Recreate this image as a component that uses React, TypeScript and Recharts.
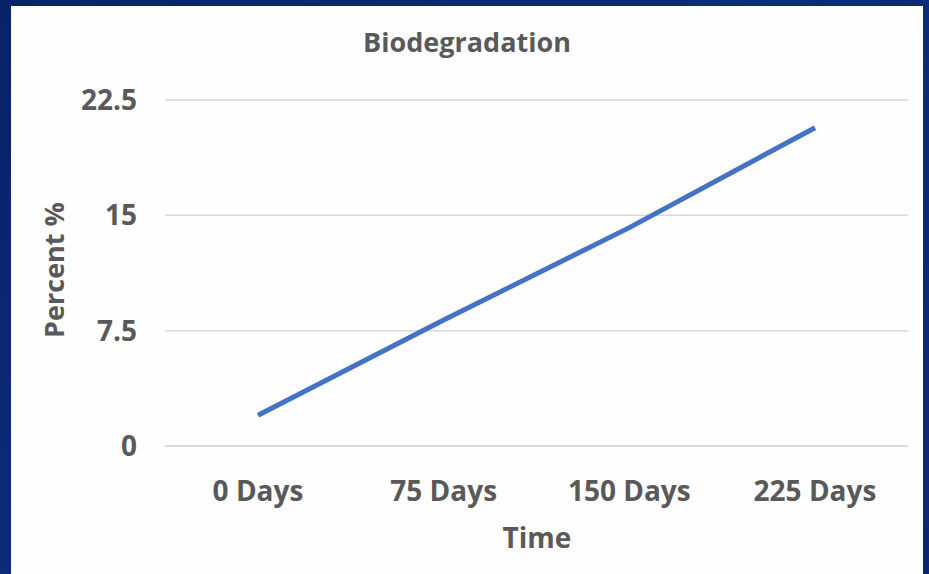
import React from "react";
import { LineChart, Line, XAxis, YAxis, CartesianGrid } from "recharts";

const categories = ["0 Days", "75 Days", "150 Days", "225 Days"];
const percentValues = [2.0, 8.2, 14.2, 20.7];
const yTicks = [0, 7.5, 15, 22.5];

const data = categories.map((c, i) => ({ time: c, percent: percentValues[i] }));

const FONT = "'Open Sans', Lato, sans-serif";
const TEXT = "#595959";

export default function App() {
  return (
    <div
      style={{
        position: "absolute",
        left: 0,
        top: 0,
        width: 929,
        height: 574,
        overflow: "hidden",
        background: "linear-gradient(135deg, #0a2268 0%, #0c2d7c 50%, #0a2872 100%)",
        fontFamily: FONT,
      }}
    >
      <div
        style={{
          position: "absolute",
          left: 11,
          top: 6,
          width: 912,
          height: 568,
          background: "#fefefe",
        }}
      />
      <div
        style={{
          position: "absolute",
          left: 11,
          width: 912,
          top: 28,
          textAlign: "center",
          fontSize: 27,
          fontWeight: 700,
          color: TEXT,
          lineHeight: "28px",
          whiteSpace: "nowrap",
        }}
      >
        Biodegradation
      </div>
      <div
        style={{
          position: "absolute",
          left: 54,
          top: 270,
          transform: "translate(-50%, -50%) rotate(-90deg)",
          fontSize: 27,
          fontWeight: 700,
          color: TEXT,
          whiteSpace: "nowrap",
          lineHeight: "28px",
        }}
      >
        Percent %
      </div>
      <div
        style={{
          position: "absolute",
          left: 537,
          top: 537,
          transform: "translate(-50%, -50%)",
          fontSize: 28,
          fontWeight: 700,
          color: TEXT,
          whiteSpace: "nowrap",
          lineHeight: "28px",
        }}
      >
        Time
      </div>
      <div style={{ position: "absolute", left: 0, top: 0 }}>
        <LineChart
          width={929}
          height={574}
          data={data}
          margin={{ top: 100, right: 21, bottom: 28, left: 30 }}
        >
          <CartesianGrid vertical={false} stroke="#d9d9d9" strokeWidth={1.5} />
          <XAxis
            dataKey="time"
            height={100}
            padding={{ left: 93, right: 93 }}
            axisLine={{ stroke: "#d9d9d9", strokeWidth: 1.5 }}
            tickLine={false}
            tickMargin={29}
            tick={{ fill: TEXT, fontSize: 28, fontWeight: 700, fontFamily: FONT }}
            interval={0}
          />
          <YAxis
            width={135}
            domain={[0, 22.5]}
            ticks={yTicks}
            axisLine={false}
            tickLine={false}
            tickMargin={22}
            tick={{ fill: TEXT, fontSize: 28, fontWeight: 700, fontFamily: FONT }}
          />
          <Line
            type="linear"
            dataKey="percent"
            stroke="#4472C4"
            strokeWidth={5}
            dot={false}
            isAnimationActive={false}
          />
        </LineChart>
      </div>
    </div>
  );
}
